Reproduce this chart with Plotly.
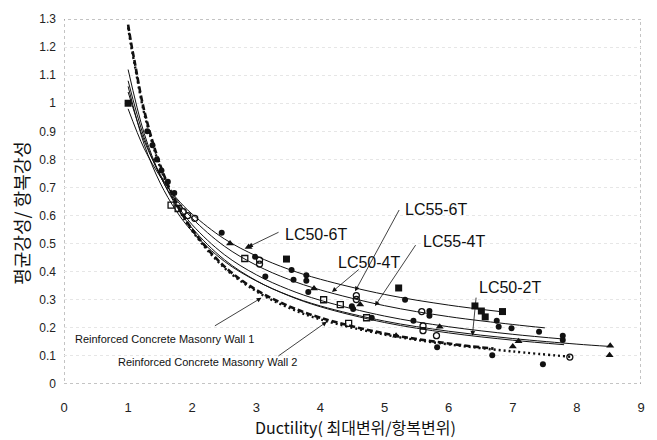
import plotly.graph_objects as go

# ---------------- data ----------------
curve_x = [1.0, 1.25, 1.5, 1.75, 2.0, 2.5, 3.0, 3.5, 4.0, 5.0, 6.0, 7.0]

lc50_6t_x = curve_x[:11] + [6.8]
lc50_6t_y = [0.98, 0.839, 0.739, 0.663, 0.605, 0.517, 0.456, 0.409, 0.373, 0.319, 0.281, 0.258]

lc55_6t_x = curve_x + [7.5]
lc55_6t_y = [1.04, 0.867, 0.746, 0.658, 0.590, 0.491, 0.423, 0.373, 0.335, 0.279, 0.240, 0.212, 0.200]

lc50_4t_x = curve_x + [7.8]
lc50_4t_y = [1.08, 0.878, 0.741, 0.642, 0.567, 0.461, 0.389, 0.337, 0.298, 0.242, 0.204, 0.177, 0.160]

lc55_4t_x = curve_x + [8.0, 8.5]
lc55_4t_y = [1.06, 0.854, 0.716, 0.617, 0.543, 0.437, 0.367, 0.316, 0.278, 0.224, 0.188, 0.162, 0.142, 0.134]

lc50_2t_x = curve_x + [7.8]
lc50_2t_y = [1.12, 0.893, 0.743, 0.635, 0.555, 0.443, 0.368, 0.315, 0.275, 0.219, 0.182, 0.156, 0.140]

wall1_x = [1.0, 1.05, 1.1, 1.25, 1.5, 1.75, 2.0, 2.5, 3.0, 3.5, 4.0, 5.0, 6.0, 6.7]
wall1_y = [1.28, 1.21, 1.15, 0.975, 0.780, 0.647, 0.550, 0.419, 0.335, 0.278, 0.236, 0.180, 0.144, 0.126]

wall2_x = [1.0, 1.05, 1.1, 1.25, 1.5, 1.75, 2.0, 2.5, 3.0, 3.5, 4.0, 5.0, 6.0, 7.0, 7.9]
wall2_y = [1.27, 1.20, 1.14, 0.965, 0.772, 0.640, 0.545, 0.414, 0.330, 0.272, 0.230, 0.176, 0.141, 0.116, 0.097]

sq_fill_x = [1.0, 3.47, 5.22, 6.41, 6.51, 6.57, 6.84]
sq_fill_y = [1.0, 0.445, 0.342, 0.278, 0.260, 0.239, 0.258]

circ_fill_x = [1.30, 1.38, 1.45, 1.52, 1.62, 1.72, 2.46, 2.98, 3.14, 3.55, 3.58, 3.78, 3.78, 3.81,
               4.49, 4.51, 4.80, 5.32, 5.45, 5.70, 5.70, 5.82, 6.68, 6.75, 6.78, 6.98, 7.41,
               7.78, 7.78, 7.47]
circ_fill_y = [0.90, 0.85, 0.80, 0.76, 0.72, 0.68, 0.539, 0.453, 0.383, 0.406, 0.371, 0.387, 0.368, 0.328,
               0.277, 0.267, 0.236, 0.300, 0.225, 0.260, 0.243, 0.131, 0.102, 0.225, 0.204, 0.199, 0.186,
               0.172, 0.157, 0.070]

circ_open_x = [1.86, 1.93, 2.04, 3.05, 3.05, 4.56, 4.56, 5.58, 5.60, 5.60, 5.81, 7.89]
circ_open_y = [0.614, 0.600, 0.590, 0.441, 0.427, 0.315, 0.301, 0.258, 0.207, 0.190, 0.172, 0.096]

sq_open_x = [1.67, 1.78, 2.82, 4.05, 4.31, 4.44, 4.72]
sq_open_y = [0.637, 0.625, 0.447, 0.300, 0.283, 0.216, 0.236]

tri_x = [2.59, 2.88, 3.90, 4.62, 5.18, 5.86, 7.00, 7.09, 8.52, 8.51]
tri_y = [0.500, 0.488, 0.340, 0.283, 0.172, 0.204, 0.134, 0.152, 0.136, 0.102]

# labels: text, text x, text y, arrow tail x, tail y, arrow tip x, tip y
labels = ["LC50-6T", "LC55-6T", "LC50-4T", "LC55-4T", "LC50-2T"]
label_tx = [3.42, 5.28, 4.24, 5.57, 6.44]
label_ty = [0.533, 0.622, 0.432, 0.506, 0.342]
tail_x = [3.37, 5.24, 4.62, 5.50, 6.43]
tail_y = [0.543, 0.625, 0.412, 0.500, 0.313]
tip_x = [2.87, 4.54, 4.18, 4.85, 6.37]
tip_y = [0.488, 0.330, 0.328, 0.278, 0.172]

wall_labels = ["Reinforced Concrete Masonry Wall 1", "Reinforced Concrete Masonry Wall 2"]
wall_tx = [0.14, 0.81]
wall_ty = [0.161, 0.080]
wall_tail_x = [2.33, 3.32]
wall_tail_y = [0.204, 0.096]
wall_tip_x = [3.08, 4.10]
wall_tip_y = [0.307, 0.222]

x_ticks = [0, 1, 2, 3, 4, 5, 6, 7, 8, 9]
y_ticks = [0, 0.1, 0.2, 0.3, 0.4, 0.5, 0.6, 0.7, 0.8, 0.9, 1.0, 1.1, 1.2, 1.3]
y_ticktext = ["0", "0.1", "0.2", "0.3", "0.4", "0.5", "0.6", "0.7", "0.8", "0.9", "1", "1.1", "1.2", "1.3"]

x_title = "Ductility( 최대변위/항복변위)"
y_title = "평균강성/ 항복강성"

# ---------------- figure ----------------
INK = "#111111"
NARROW = "Liberation Sans Narrow, Arial Narrow, Liberation Sans, Arial, sans-serif"
KFONT = "Noto Sans CJK KR, Liberation Sans, sans-serif"
fig = go.Figure()

for xs, ys in [(lc50_6t_x, lc50_6t_y), (lc55_6t_x, lc55_6t_y), (lc50_4t_x, lc50_4t_y),
               (lc55_4t_x, lc55_4t_y), (lc50_2t_x, lc50_2t_y)]:
    fig.add_trace(go.Scatter(x=xs, y=ys, mode="lines", line=dict(color=INK, width=1, shape="spline"),
                             hoverinfo="skip"))

fig.add_trace(go.Scatter(x=wall1_x, y=wall1_y, mode="lines",
                         line=dict(color=INK, width=2.6, dash="6px,3px", shape="spline")))
fig.add_trace(go.Scatter(x=wall2_x, y=wall2_y, mode="lines",
                         line=dict(color=INK, width=2.4, dash="2px,3px", shape="spline")))

fig.add_trace(go.Scatter(x=sq_fill_x, y=sq_fill_y, mode="markers",
                         marker=dict(symbol="square", size=7, color=INK)))
fig.add_trace(go.Scatter(x=circ_fill_x, y=circ_fill_y, mode="markers",
                         marker=dict(symbol="circle", size=6, color=INK)))
fig.add_trace(go.Scatter(x=circ_open_x, y=circ_open_y, mode="markers",
                         marker=dict(symbol="circle-open", size=6, color=INK, line=dict(width=1.3))))
fig.add_trace(go.Scatter(x=sq_open_x, y=sq_open_y, mode="markers",
                         marker=dict(symbol="square-open", size=6, color=INK, line=dict(width=1.3))))
fig.add_trace(go.Scatter(x=tri_x, y=tri_y, mode="markers",
                         marker=dict(symbol="triangle-up", size=7, color=INK)))

annotations = []
for t, tx, ty, ax, ay, px, py in zip(labels, label_tx, label_ty, tail_x, tail_y, tip_x, tip_y):
    annotations.append(dict(x=px, y=py, ax=ax, ay=ay, xref="x", yref="y", axref="x", ayref="y",
                            text="", showarrow=True, arrowhead=2, arrowsize=1.2, arrowwidth=0.8,
                            arrowcolor=INK))
    annotations.append(dict(x=tx, y=ty, xref="x", yref="y", text=t, showarrow=False,
                            xanchor="left", yanchor="middle",
                            font=dict(family=NARROW, size=16, color=INK)))
for t, tx, ty, ax, ay, px, py in zip(wall_labels, wall_tx, wall_ty, wall_tail_x, wall_tail_y,
                                     wall_tip_x, wall_tip_y):
    annotations.append(dict(x=px, y=py, ax=ax, ay=ay, xref="x", yref="y", axref="x", ayref="y",
                            text="", showarrow=True, arrowhead=2, arrowsize=1.2, arrowwidth=0.8,
                            arrowcolor=INK))
    annotations.append(dict(x=tx, y=ty, xref="x", yref="y", text=t, showarrow=False,
                            xanchor="left", yanchor="middle",
                            font=dict(family=NARROW, size=11, color=INK)))

# axis titles placed in paper coordinates
annotations.append(dict(x=0.505, y=-0.119, xref="paper", yref="paper", text=x_title, showarrow=False,
                        xanchor="center", yanchor="middle",
                        font=dict(family=KFONT, size=16, color=INK)))
annotations.append(dict(x=-0.074, y=0.47, xref="paper", yref="paper", text=y_title, showarrow=False,
                        textangle=-90, xanchor="center", yanchor="middle",
                        font=dict(family=KFONT, size=18, color=INK)))

shapes = [dict(type="rect", xref="x", yref="y", x0=0, x1=9, y0=0, y1=1.3,
               line=dict(color="#888888", width=1, dash="dot"), layer="below")]

fig.update_layout(
    width=657, height=440, autosize=False,
    margin=dict(l=64, r=15, t=14, b=56),
    paper_bgcolor="white", plot_bgcolor="white",
    showlegend=False,
    annotations=annotations, shapes=shapes,
    xaxis=dict(range=[0, 9], tickvals=x_ticks, showgrid=False, zeroline=False, showline=False,
               ticks="", ticklabelstandoff=14,
               tickfont=dict(family="Liberation Sans, Arial", size=13, color="#222222")),
    yaxis=dict(range=[0, 1.3], tickvals=y_ticks, ticktext=y_ticktext, showgrid=True,
               gridcolor="#e6e6e6", griddash="dot", zeroline=False, showline=False,
               ticks="", ticklabelstandoff=7,
               tickfont=dict(family="Liberation Sans, Arial", size=12, color="#222222")),
)

fig.write_html("out.html")
